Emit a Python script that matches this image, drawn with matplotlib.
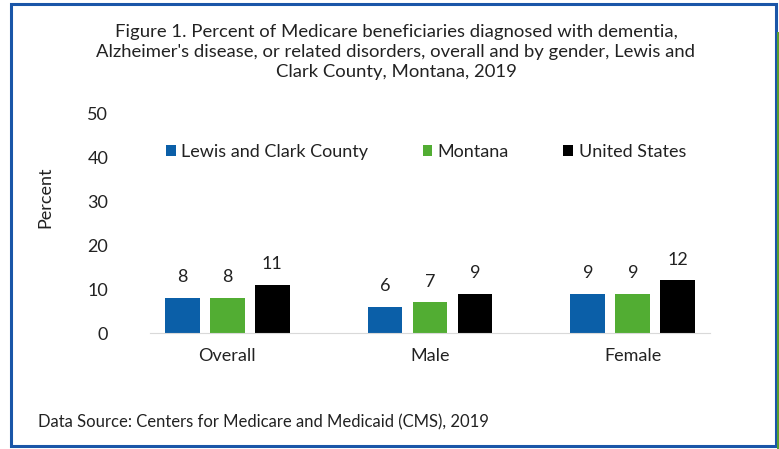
import matplotlib.pyplot as plt
from matplotlib.patches import Rectangle
import numpy as np

plt.rcParams['font.family'] = ['Lato', 'DejaVu Sans']

groups = ["Overall", "Male", "Female"]
series = ["Lewis and Clark County", "Montana", "United States"]
lewis_clark = [8, 6, 9]
montana = [8, 7, 9]
united_states = [11, 9, 12]
colors = ["#0b5fa8", "#52ad33", "#000000"]
yticks = [0, 10, 20, 30, 40, 50]

title = ("Figure 1. Percent of Medicare beneficiaries diagnosed with dementia,\n"
         "Alzheimer's disease, or related disorders, overall and by gender, Lewis and\n"
         "Clark County, Montana, 2019")
source = "Data Source: Centers for Medicare and Medicaid (CMS), 2019"

W, H = 779, 449
fig = plt.figure(figsize=(W / 100, H / 100), dpi=100)
ax = fig.add_axes([150 / W, (H - 333) / H, 560 / W, 219 / H])

x = np.arange(len(groups))
width = 0.172
step = 0.222
txt = "#222222"
for i, (name, vals) in enumerate(zip(series, [lewis_clark, montana, united_states])):
    bars = ax.bar(x + (i - 1) * step, vals, width, color=colors[i], label=name)
    for b, v in zip(bars, vals):
        ax.annotate(str(v), (b.get_x() + b.get_width() / 2, v),
                    xytext=(0, 9), textcoords="offset points",
                    ha="center", va="bottom", fontsize=13, color=txt)

ax.set_xlim(-0.38, 2.38)
ax.set_ylim(0, 50)
ax.set_yticks(yticks)
ax.set_xticks(x)
ax.set_xticklabels(groups)
ax.tick_params(axis="both", length=0, labelsize=13, labelcolor=txt)
ax.tick_params(axis="y", pad=30)
ax.tick_params(axis="x", pad=11)
for s in ["top", "right", "left"]:
    ax.spines[s].set_visible(False)
ax.spines["bottom"].set_color("#d9d9d9")

leg = ax.legend(loc="center", bbox_to_anchor=(426 / W, (H - 152) / H),
                bbox_transform=fig.transFigure, ncol=3, frameon=False,
                fontsize=13, handlelength=0.55, handleheight=0.55,
                handletextpad=0.3, columnspacing=3.0)
for t in leg.get_texts():
    t.set_color(txt)

fig.text(45 / W, (H - 197) / H, "Percent", rotation=90, ha="center",
         va="center", fontsize=13, color=txt)
fig.text(396 / W, 1 - 24 / H, title, ha="center", va="top", fontsize=13.3,
         color=txt, linespacing=1.3)
fig.text(38 / W, (H - 422) / H, source, ha="left", va="center",
         fontsize=12, color=txt)

# panel frame
fig.add_artist(Rectangle((10.5 / W, 3.5 / H), 765 / W, 442 / H,
                         transform=fig.transFigure, fill=False,
                         edgecolor="#1a56a8", linewidth=2.2))
fig.add_artist(Rectangle((777 / W, 0), 2 / W, (H - 32) / H,
                         transform=fig.transFigure, color="#5aa02c",
                         linewidth=0))

fig.savefig("out.png", dpi=100)
